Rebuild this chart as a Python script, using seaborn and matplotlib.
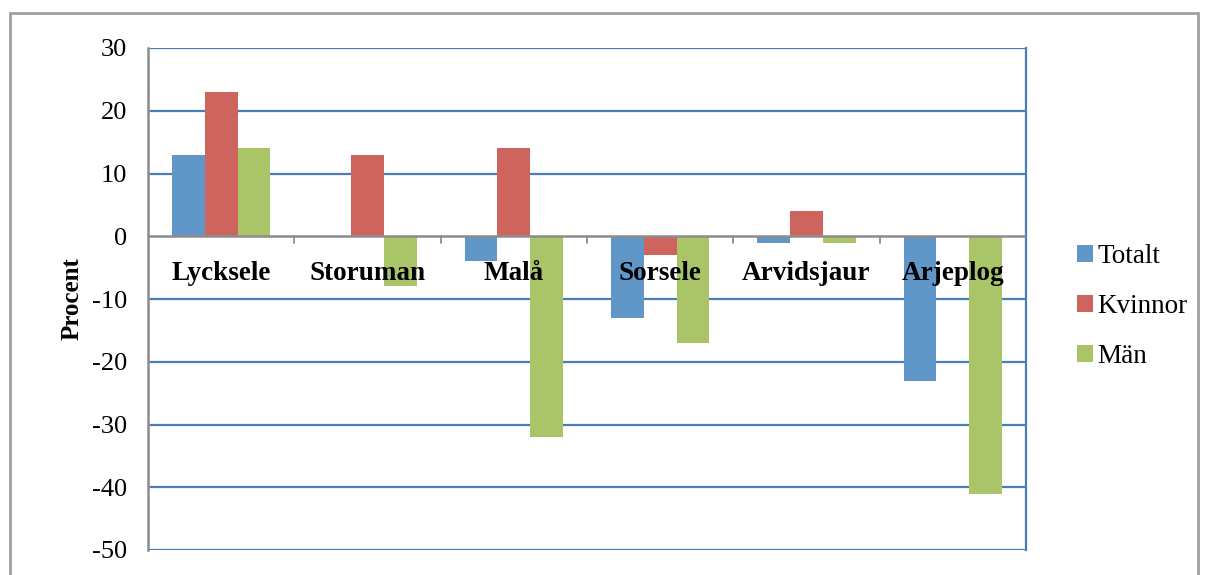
import pandas as pd
import matplotlib.pyplot as plt
import seaborn as sns
import numpy as np
from matplotlib.patches import Patch, Rectangle

kommuner = ["Lycksele", "Storuman", "Malå", "Sorsele", "Arvidsjaur", "Arjeplog"]
serier = ["Totalt", "Kvinnor", "Män"]
totalt = [13, 0, -4, -13, -1, -23]
kvinnor = [23, 13, 14, -3, 4, 0]
man = [14, -8, -32, -17, -1, -41]
y_ticks = [-50, -40, -30, -20, -10, 0, 10, 20, 30]

farger = ["#6096c8", "#ce645e", "#aac468"]
grid_blue = "#4a7ebb"
axis_grey = "#8c8c8c"

df = pd.DataFrame({
    "Kommun": kommuner * 3,
    "Serie": [s for s in serier for _ in kommuner],
    "Procent": totalt + kvinnor + man,
})

sns.set_theme(style="white")
plt.rcParams["font.family"] = ["Liberation Serif", "DejaVu Serif"]
plt.rcParams["text.color"] = "black"
plt.rcParams["axes.labelcolor"] = "black"
plt.rcParams["ytick.labelcolor"] = "black"

fig = plt.figure(figsize=(12.08, 5.75), dpi=100)
ax = fig.add_axes([148 / 1208, 1 - 550 / 575, (1026 - 148) / 1208, (550 - 48) / 575])

sns.barplot(data=df, x="Kommun", y="Procent", hue="Serie", palette=farger,
            saturation=1, width=0.67, gap=0, linewidth=0, ax=ax, zorder=3)
if ax.get_legend() is not None:
    ax.get_legend().remove()

ax.set_ylim(-50, 30)
ax.set_xlim(-0.5, len(kommuner) - 0.5)
ax.set_yticks(y_ticks)
ax.set_yticklabels([str(t) for t in y_ticks], fontsize=19)
ax.tick_params(axis="y", length=7, width=1.5, color=axis_grey, direction="out", pad=8)
ax.set_xticks([])
ax.set_xlabel("")
ax.set_ylabel("Procent", fontsize=18, fontweight="bold", labelpad=6)

# gridlines
for t in y_ticks:
    if t != 0:
        ax.axhline(t, color=grid_blue, lw=1.6, zorder=1)
ax.axhline(0, color=axis_grey, lw=1.8, zorder=4)
for b in np.arange(0.5, len(kommuner) - 0.5, 1):
    ax.plot([b, b], [0, -1.1], color=axis_grey, lw=1.3, zorder=4, clip_on=False)

for side in ["top", "bottom"]:
    ax.spines[side].set_visible(False)
ax.spines["left"].set_color(axis_grey)
ax.spines["left"].set_linewidth(1.8)
ax.spines["right"].set_color(grid_blue)
ax.spines["right"].set_linewidth(1.6)

# category labels at the zero line
for i, k in enumerate(kommuner):
    ax.text(i, -5.9, k, ha="center", va="center", fontsize=19.5,
            fontweight="bold", zorder=5)

handles = [Patch(facecolor=c, edgecolor="none") for c in farger]
fig.legend(handles, serier, loc="upper left", frameon=False, fontsize=19.5,
           bbox_to_anchor=(1066 / 1208, 1 - 233 / 575), handlelength=0.6,
           handleheight=0.6, handletextpad=0.15, labelspacing=0.92,
           borderaxespad=0)

# outer chart border
fig.patches.append(Rectangle((10 / 1208, -0.1), (1198 - 10) / 1208, 1.1 - 13 / 575,
                             transform=fig.transFigure, fill=False,
                             edgecolor="#a0a0a0", lw=2))

plt.savefig("out.png", dpi=100)
